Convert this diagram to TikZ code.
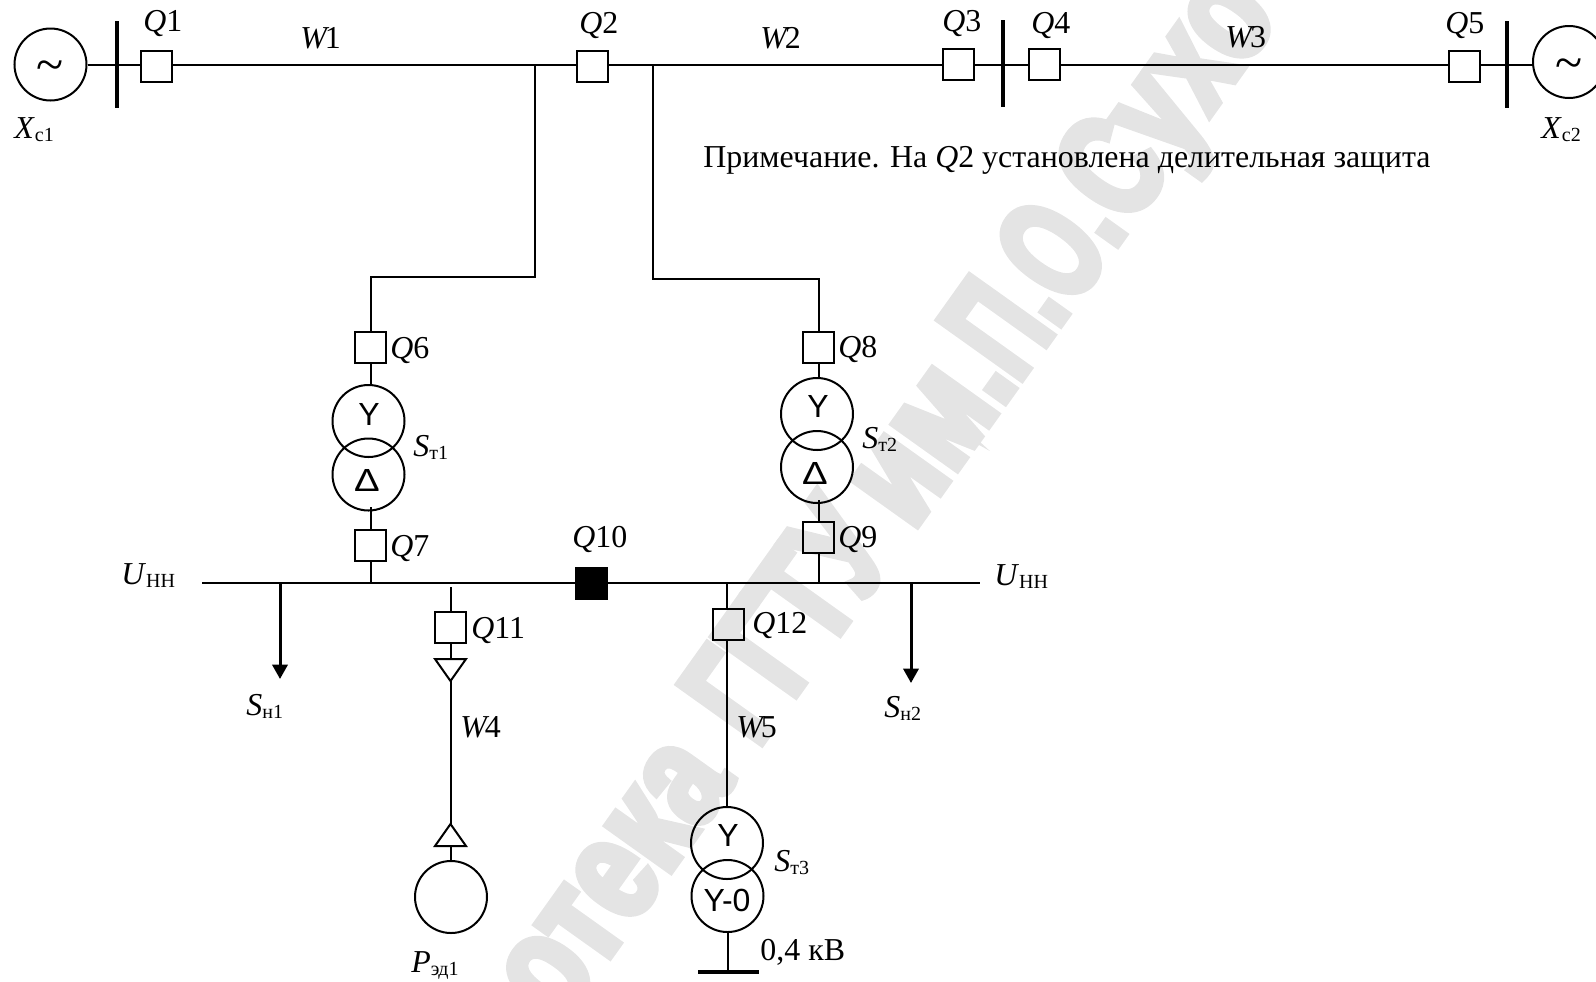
\documentclass[tikz,border=0pt]{standalone}
\usepackage{fontspec}
\usepackage{graphicx}
\setmainfont{Liberation Serif}
\newfontfamily\arialf{Liberation Sans}
\newfontfamily\wmf[FakeStretch=0.72,FakeBold=5]{Liberation Sans Bold}
\usetikzlibrary{arrows.meta}
\definecolor{wmgray}{gray}{0.895}
\newcommand{\sbs}[2]{#1\raisebox{-1.8pt}{\fontsize{10pt}{11pt}\selectfont #2}}
\newcommand{\wdelta}{\scalebox{1.2}[1]{Δ}}
\newcommand{\wln}[1]{\textit{W}\kern-2.2pt #1}
\tikzset{
  lbl/.style={inner sep=0pt,anchor=base west,font=\fontsize{15.95pt}{17pt}\selectfont},
  sym/.style={inner sep=0pt,anchor=center,font=\arialf\fontsize{16pt}{17pt}\selectfont},
  tld/.style={inner sep=0pt,anchor=center,font=\fontsize{25pt}{25pt}\selectfont},
  brk/.style={draw=black,line width=1pt,rectangle,inner sep=0pt,minimum size=15.5pt},
  brkon/.style={brk,fill=black},
  ring/.style={draw=black,line width=1pt,circle,inner sep=0pt,minimum size=36pt},
  busbar/.style={fill=black,rectangle,inner sep=0pt,minimum width=1.8pt,minimum height=43.5pt},
  wire/.style={line width=1pt,black},
  mainw/.style={line width=1.3pt,black},
  tri/.style={draw=black,line width=1pt,line join=miter},
  load/.style={line width=1.5pt,black,-{Triangle[length=7.2pt,width=7.6pt]}},
  wm/.style={inner sep=0pt,anchor=base west,rotate=54.5,text=wmgray,font=\wmf\fontsize{74pt}{76pt}\selectfont}
}
\begin{document}
\begin{tikzpicture}[x=.5pt,y=-.5pt]
\useasboundingbox (0,0) rectangle (1596,981);
\begin{scope}
\clip (0,0) rectangle (1596,981);
\node[wm] (mark1) at (560,1026) {\scalebox{1.05}[1]{отека}};
\node[wm] (mark2) at (757.4,749.2) {\scalebox{0.97}[1]{ГГТУ}};
\node[wm] (mark3) at (912.5,531.8) {\scalebox{1.05}[1]{им.}};
\node[wm] (mark4) at (1017.6,384.5) {\scalebox{0.87}[1]{П.О.}};
\node[wm] (mark5) at (1129.1,228.2) {Сухо};
\coordinate (m) at (0,65);
\node[ring] (G1) at (50.5,64.5) {};
\node[tld] (tilde1) at (50,71) {\symbol{126}};
\node[busbar] (B1) at (117,64.5) {};
\node[brk] (Q1) at (156,66.5) {};
\node[brk] (Q2) at (592.5,66.5) {};
\node[brk] (Q3) at (958.5,64.5) {};
\node[busbar] (B2) at (1003,63) {};
\node[brk] (Q4) at (1044.5,64.5) {};
\node[brk] (Q5) at (1464.5,66.5) {};
\node[busbar] (B3) at (1507,64.5) {};
\node[ring] (G2) at (1569,62) {};
\node[tld] (tilde2) at (1569,69) {\symbol{126}};
\draw[mainw] (G1.east|-m) -- (Q1.west|-m);
\draw[mainw] (Q1.east|-m) -- (Q2.west|-m);
\draw[mainw] (Q2.east|-m) -- (Q3.west|-m);
\draw[mainw] (Q3.east|-m) -- (Q4.west|-m);
\draw[mainw] (Q4.east|-m) -- (Q5.west|-m);
\draw[mainw] (Q5.east|-m) -- (G2.west|-m);
% branches
\node[brk] (Q6) at (370.5,347.5) {};
\node[brk] (Q8) at (818.5,347.5) {};
\coordinate (jl) at (535,65);
\coordinate (jr) at (652.5,65);
\coordinate (kl) at (535,277);
\coordinate (kr) at (652.5,279);
\draw[wire,line join=miter] (jl) -- (kl) -- (Q6.north|-kl) -- (Q6.north);
\draw[wire,line join=miter] (jr) -- (kr) -- (Q8.north|-kr) -- (Q8.north);
% T1
\node[ring] (T1a) at (368.5,421) {};
\node[ring] (T1b) at (368.5,474.5) {};
\node[sym] (T1y) at (369,414) {Y};
\node[sym] (T1d) at (367,480.5) {\wdelta};
\node[brk] (Q7) at (370.5,545.5) {};
\draw[wire] (Q6.south) -- (Q6.south|-T1a.north);
\coordinate (T1o) at (370.5,507);
\draw[wire] (Q7.north) -- (T1o);
% T2
\node[ring] (T2a) at (817,414) {};
\node[ring] (T2b) at (817,467) {};
\node[sym] (T2y) at (818,406) {Y};
\node[sym] (T2d) at (815,473) {\wdelta};
\node[brk] (Q9) at (818.5,537.5) {};
\draw[wire] (Q8.south) -- (Q8.south|-T2a.north);
\coordinate (T2o) at (818.5,500);
\draw[wire] (Q9.north) -- (T2o);
% bus
\coordinate (bL) at (202,583);
\coordinate (bR) at (980,583);
\node[brkon] (Q10) at (591,583) {};
\draw[wire] (bL) -- (Q10.west);
\draw[wire] (Q10.east) -- (bR);
\draw[wire] (Q7.south) -- (Q7.south|-bL);
\draw[wire] (Q9.south) -- (Q9.south|-bL);
% loads
\coordinate (s1a) at (280,582);
\coordinate (s1b) at (280,679);
\coordinate (s2a) at (911,583);
\coordinate (s2b) at (911,683);
\draw[load] (s1a) -- (s1b);
\draw[load] (s2a) -- (s2b);
% motor
\coordinate (w4t) at (450.5,587);
\node[brk] (Q11) at (450.5,627) {};
\coordinate (t1a) at (435,659);\coordinate (t1b) at (466,659);\coordinate (t1c) at (450.5,681);
\coordinate (t2a) at (435,846);\coordinate (t2b) at (466,846);\coordinate (t2c) at (450.5,824);
\node[ring] (M) at (451,897) {};
\draw[wire] (w4t) -- (Q11.north);
\draw[wire] (Q11.south) -- (t1c|-t1a);
\draw[tri] (t1a) -- (t1b) -- (t1c) -- cycle;
\draw[wire] (t1c) -- (t2c);
\draw[tri] (t2a) -- (t2b) -- (t2c) -- cycle;
\draw[wire] (M.north) -- (M.north|-t2a);
% T3
\coordinate (w5t) at (727,583);
\node[brk] (Q12) at (728.5,624.5) {};
\node[ring] (T3a) at (727,843) {};
\node[ring] (T3b) at (727.5,896) {};
\node[sym] (T3y) at (728,835) {Y};
\node[sym] (T3z) at (727,900) {Y-0};
\node[fill=black,inner sep=0pt,minimum width=30.5pt,minimum height=1.8pt] (gnd) at (728.5,972) {};
\draw[wire] (w5t) -- (w5t|-Q12.north);
\draw[wire] (w5t|-Q12.south) -- (T3a.north);
\draw[wire] (T3b.south) -- (T3b.south|-gnd.north);
% labels
\node[lbl] (lQ1) at (143,31) {\textit{Q}1};
\node[lbl] (lW1) at (300,48) {\wln{1}};
\node[lbl] (lQ2) at (579,33) {\textit{Q}2};
\node[lbl] (lW2) at (760,48) {\wln{2}};
\node[lbl] (lQ3) at (942,31) {\textit{Q}3};
\node[lbl] (lQ4) at (1031,33) {\textit{Q}4};
\node[lbl] (lW3) at (1225,47) {\wln{3}};
\node[lbl] (lQ5) at (1445,33) {\textit{Q}5};
\node[lbl] (lX1) at (14,138) {\sbs{\textit{X}}{с1}};
\node[lbl] (lX2) at (1541,138) {\sbs{\textit{X}}{с2}};
\node[lbl] (note) at (703,167) {Примечание. На \textit{Q}2 установлена делительная защита};
\node[lbl] (lQ6) at (390,358) {\textit{Q}6};
\node[lbl] (lQ7) at (390,556) {\textit{Q}7};
\node[lbl] (lQ8) at (838,357) {\textit{Q}8};
\node[lbl] (lQ9) at (838,547) {\textit{Q}9};
\node[lbl] (lQ10) at (572,547) {\textit{Q}10};
\node[lbl] (lQ11) at (471,638) {\textit{Q}11};
\node[lbl] (lQ12) at (752,633) {\textit{Q}12};
\node[lbl] (lS1) at (413,456) {\sbs{\textit{S}}{т1}};
\node[lbl] (lS2) at (862,448) {\sbs{\textit{S}}{т2}};
\node[lbl] (lS3) at (774,871) {\sbs{\textit{S}}{т3}};
\node[lbl] (lU1) at (121,584) {\sbs{\textit{U}}{НН}};
\node[lbl] (lU2) at (994,585) {\sbs{\textit{U}}{НН}};
\node[lbl] (lSn1) at (246,715) {\sbs{\textit{S}}{н1}};
\node[lbl] (lSn2) at (884,717) {\sbs{\textit{S}}{н2}};
\node[lbl] (lW4) at (460,737) {\wln{4}};
\node[lbl] (lW5) at (736,737) {\wln{5}};
\node[lbl] (lP) at (411,972) {\sbs{\textit{P}}{эд1}};
\node[lbl] (lV) at (760,960) {0,4 кВ};
\end{scope}
\end{tikzpicture}
\end{document}
